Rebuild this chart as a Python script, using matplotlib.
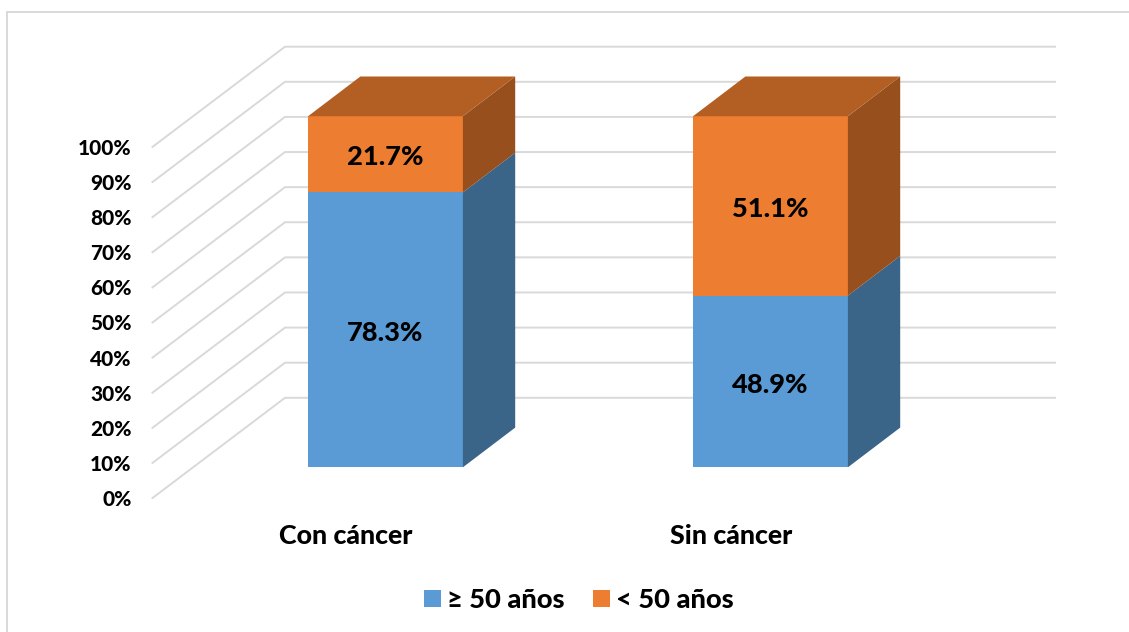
import matplotlib
matplotlib.use("Agg")
import matplotlib.pyplot as plt
from matplotlib.patches import Polygon, Rectangle

categories = ["Con cáncer", "Sin cáncer"]
series_names = ["≥ 50 años", "< 50 años"]
values_over = [78.3, 48.9]
values_under = [21.7, 51.1]
tick_values = [0, 10, 20, 30, 40, 50, 60, 70, 80, 90, 100]

plt.rcParams["font.family"] = ["Lato", "DejaVu Sans"]
plt.rcParams["font.weight"] = 900

W, H = 1129, 632
fig = plt.figure(figsize=(W / 100, H / 100), dpi=100, facecolor="white")
L, R, T, B = 193.0, 963.0, 116.2, 467.3
ax = fig.add_axes([L / W, 1 - B / H, (R - L) / W, (B - T) / H])
ax.set_xlim(-0.5, 1.5)
ax.set_ylim(0, 100)
ax.axis("off")

px = 2 / (R - L)
py = 100 / (B - T)
bar_w = 154.8 * px
dx, dy = 52.3 * px, 39.7 * py

GRID = "#d9d9d9"
front_x = -0.5 + (152.5 - L) * px
back_x = -0.5 + (285 - L) * px
end_x = -0.5 + (1055 - L) * px
front_off = -30.7 * py
back_off = 69.5 * py

for v in tick_values:
    ax.plot([front_x, back_x, end_x], [v + front_off, v + back_off, v + back_off],
            color=GRID, lw=1.4, clip_on=False, zorder=1, solid_joinstyle="miter")
    ax.text(-0.5 + (131.5 - L) * px, v + front_off, f"{v}%", ha="right", va="center_baseline",
            fontsize=15.0, color="black", clip_on=False)

BLUE, ORANGE = "#5B9BD5", "#ED7D31"
BLUE_S, ORANGE_S, ORANGE_T = "#3A6488", "#97501D", "#B35E22"
xs = list(range(len(categories)))
ax.bar(xs, values_over, width=bar_w, color=BLUE, zorder=3, clip_on=False)
ax.bar(xs, values_under, width=bar_w, bottom=values_over, color=ORANGE, zorder=3, clip_on=False)

for x, a, b in zip(xs, values_over, values_under):
    xr = x + bar_w / 2
    xl = x - bar_w / 2
    for y0, y1, c in [(0, a, BLUE_S), (a, a + b, ORANGE_S)]:
        ax.add_patch(Polygon([(xr, y0), (xr + dx, y0 + dy), (xr + dx, y1 + dy), (xr, y1)],
                             closed=True, fc=c, ec="none", zorder=3, clip_on=False))
    top = a + b
    ax.add_patch(Polygon([(xl, top), (xl + dx, top + dy), (xr + dx, top + dy), (xr, top)],
                         closed=True, fc=ORANGE_T, ec="none", zorder=3, clip_on=False))
    ax.text(x, a / 2 - 0.3, f"{a:.1f}%", ha="center", va="center_baseline",
            fontsize=19.6, color="black", zorder=4)
    ax.text(x, a + b / 2 - 0.3, f"{b:.1f}%", ha="center", va="center_baseline",
            fontsize=19.6, color="black", zorder=4)
    ax.text(x - 39.5 * px, -(534 - B) * py, categories[x], ha="center", va="center_baseline",
            fontsize=19.3, color="black", clip_on=False)

handles = [Rectangle((0, 0), 1, 1, fc=BLUE, ec="none"), Rectangle((0, 0), 1, 1, fc=ORANGE, ec="none")]
fig.legend(handles, series_names, loc="center", bbox_to_anchor=(579 / W, 1 - 600 / H), ncol=2,
           frameon=False, fontsize=19.6, handlelength=0.63, handleheight=0.63,
           handletextpad=0.22, columnspacing=1.03, labelcolor="black")

fig.add_artist(Rectangle((6.7 / W, -0.02), 1.02, 1 - 11.7 / H + 0.02, transform=fig.transFigure,
                         fc="none", ec=GRID, lw=1.4))

fig.savefig("out.png", dpi=100)
